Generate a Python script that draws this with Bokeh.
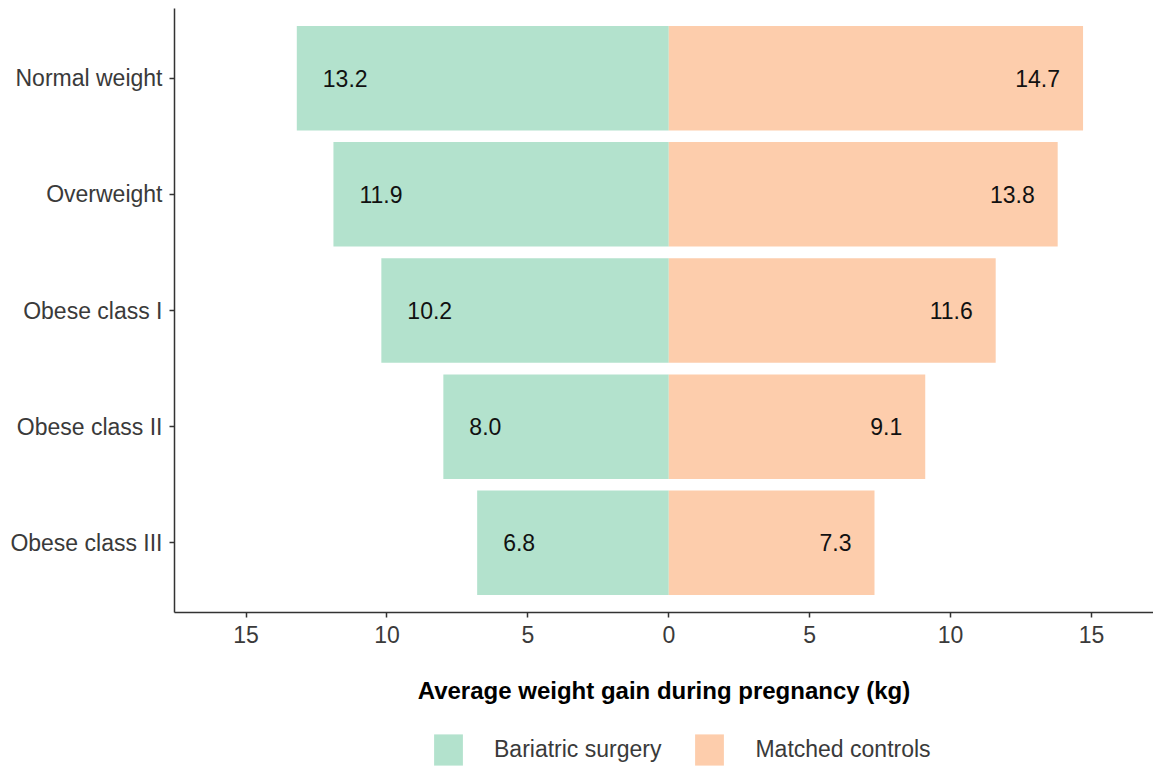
from bokeh.plotting import figure
from bokeh.layouts import column
from bokeh.models import FactorRange, Range1d, Legend, LegendItem, ColumnDataSource, FixedTicker
from bokeh.embed import file_html
from bokeh.resources import INLINE
from bokeh.core.properties import value

# ---- data ----
categories = ["Normal weight", "Overweight", "Obese class I", "Obese class II", "Obese class III"]
bariatric = [13.2, 11.9, 10.2, 8.0, 6.8]
controls = [14.7, 13.8, 11.6, 9.1, 7.3]
series_names = ["Bariatric surgery", "Matched controls"]
x_ticks = [-15, -10, -5, 0, 5, 10, 15]
x_tick_labels = ["15", "10", "5", "0", "5", "10", "15"]
x_title = "Average weight gain during pregnancy (kg)"

# ---- style ----
colors = ["#B3E2CD", "#FDCDAC"]
FONT = "Liberation Sans"
TXT = "#3a3a3a"
AXC = "#333333"
W = 1153

src_b = ColumnDataSource(dict(
    cat=categories,
    left=[-v for v in bariatric],
    right=[0] * len(bariatric),
    lab=["%.1f" % v for v in bariatric],
))
src_c = ColumnDataSource(dict(
    cat=categories,
    left=[0] * len(controls),
    right=controls,
    lab=["%.1f" % v for v in controls],
))

p = figure(
    width=W, height=709,
    y_range=FactorRange(factors=list(reversed(categories)), range_padding=0.1,
                        range_padding_units="absolute"),
    x_range=Range1d(-17.54, 17.2),
    output_backend="svg", toolbar_location=None,
    min_border_left=174, min_border_right=0, min_border_top=8, min_border_bottom=97,
)
p.outline_line_color = None
p.xgrid.visible = False
p.ygrid.visible = False
p.background_fill_color = "white"
p.border_fill_color = "white"

rb = p.hbar(y="cat", left="left", right="right", height=0.9, source=src_b,
            fill_color=colors[0], line_color=None)
rc = p.hbar(y="cat", left="left", right="right", height=0.9, source=src_c,
            fill_color=colors[1], line_color=None)

p.text(x="left", y="cat", text="lab", source=src_b, x_offset=26,
       text_align="left", text_baseline="middle", text_font=value(FONT),
       text_font_size="23px", text_color="#111111")
p.text(x="right", y="cat", text="lab", source=src_c, x_offset=-23,
       text_align="right", text_baseline="middle", text_font=value(FONT),
       text_font_size="23px", text_color="#111111")

# axes
p.xaxis.ticker = FixedTicker(ticks=x_ticks)
p.xaxis.major_label_overrides = {t: l for t, l in zip(x_ticks, x_tick_labels)}
for ax in (p.xaxis[0], p.yaxis[0]):
    ax.axis_line_color = AXC
    ax.axis_line_width = 1.5
    ax.major_tick_line_color = AXC
    ax.major_tick_line_width = 1.5
    ax.major_tick_out = 5
    ax.major_tick_in = 0
    ax.minor_tick_line_color = None
    ax.major_label_text_font = FONT
    ax.major_label_text_font_size = "23px"
    ax.major_label_text_color = TXT
p.yaxis.major_label_standoff = 7
p.xaxis.major_label_standoff = 8
p.xaxis.axis_label = x_title
p.xaxis.axis_label_text_font = FONT
p.xaxis.axis_label_text_font_size = "24px"
p.xaxis.axis_label_text_font_style = "bold"
p.xaxis.axis_label_text_color = "#000000"
p.xaxis.axis_label_standoff = 31

# ---- legend strip (separate figure below the chart) ----
lg = figure(width=W, height=60, x_range=Range1d(0, 1), y_range=Range1d(0, 1),
            output_backend="svg", toolbar_location=None,
            min_border_left=174, min_border_right=0, min_border_top=0, min_border_bottom=0)
lg.axis.visible = False
lg.grid.visible = False
lg.outline_line_color = None
# swatch renderers placed outside the visible range (only used for legend keys)
dummy = ColumnDataSource(dict(y=[-10], left=[-10], right=[-9]))
lb = lg.hbar(y="y", left="left", right="right", height=1, source=dummy,
             fill_color=colors[0], line_color=None)
lc = lg.hbar(y="y", left="left", right="right", height=1, source=dummy,
             fill_color=colors[1], line_color=None)
legend = Legend(
    items=[LegendItem(label=series_names[0], renderers=[lb]),
           LegendItem(label=series_names[1], renderers=[lc])],
    orientation="horizontal", location=(256, 0),
    glyph_width=36, glyph_height=39, label_standoff=28, spacing=30,
    label_text_font=FONT, label_text_font_size="23px", label_text_color=TXT,
    border_line_color=None, background_fill_alpha=0,
    padding=0, margin=0,
)
lg.add_layout(legend, "center")

layout = column(p, lg, spacing=0)
open("out.html", "w").write(file_html(layout, INLINE))
